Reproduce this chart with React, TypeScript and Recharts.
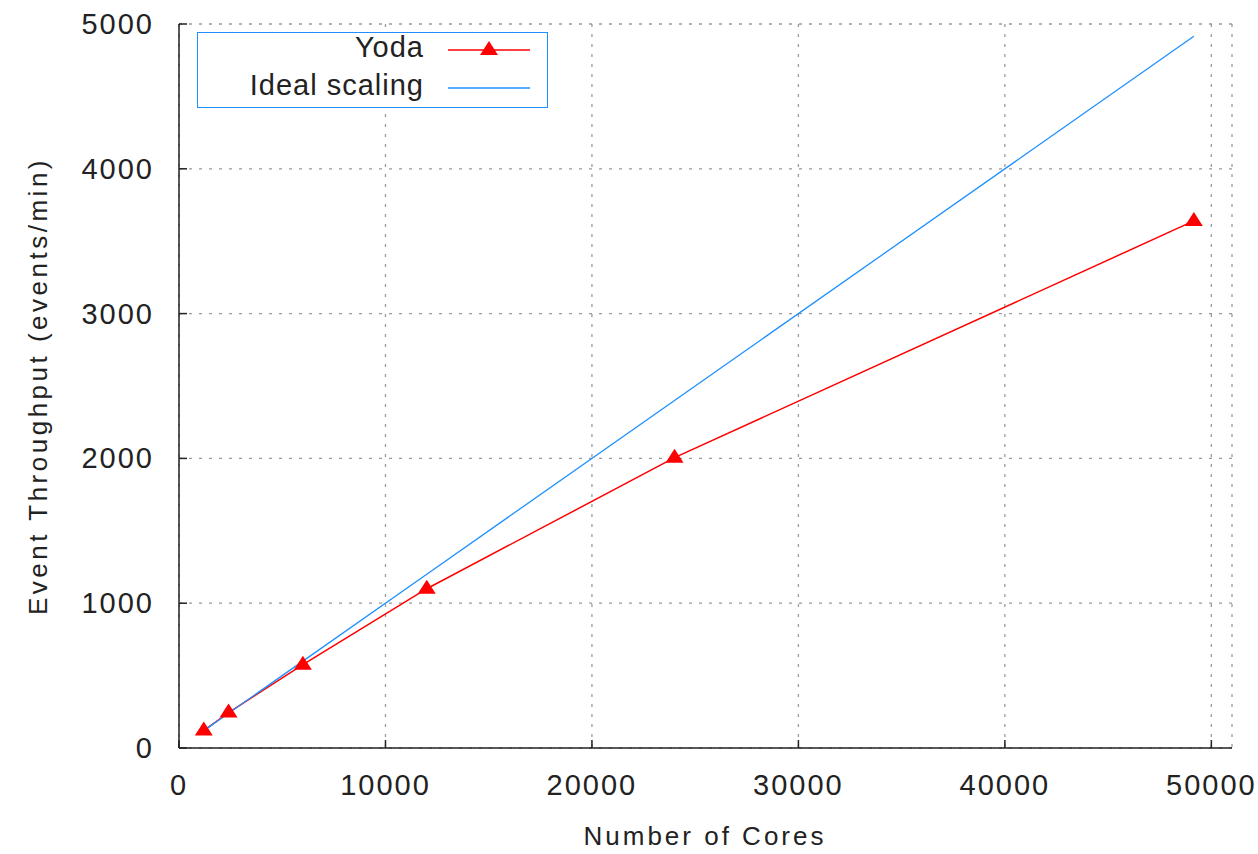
import { LineChart, Line, XAxis, YAxis, CartesianGrid, Legend, Label } from "recharts";

const cores = [1200, 2400, 6000, 12000, 24000, 49152];
const yodaThroughput = [120, 245, 575, 1100, 2005, 3640];
const idealThroughput = [120, 240, 600, 1200, 2400, 4915];
const xTicks = [0, 10000, 20000, 30000, 40000, 50000];
const yTicks = [0, 1000, 2000, 3000, 4000, 5000];
const seriesOrder = ["Yoda", "Ideal scaling"];

const yodaData = cores.map((c, i) => ({ cores: c, value: yodaThroughput[i] }));
const idealData = cores.map((c, i) => ({ cores: c, value: idealThroughput[i] }));

const FONT = '"Liberation Sans", Arial, Helvetica, sans-serif';
const RED = "#ff0000";
const BLUE = "#1e90ff";
const FRAME = "#222";

function Triangle(props: any) {
  const { cx, cy, index } = props;
  if (cx == null || cy == null) return null;
  return (
    <polygon
      key={`tri-${index}`}
      points={`${cx},${cy - 9} ${cx - 9},${cy + 5} ${cx + 9},${cy + 5}`}
      fill={RED}
    />
  );
}

function BottomTick({ x, y, payload }: any) {
  return (
    <g>
      <line x1={x} y1={y} x2={x} y2={y - 8} stroke={FRAME} strokeWidth={1.5} />
      <text x={x} y={y + 47} textAnchor="middle" fontFamily={FONT} fontSize={29} letterSpacing={2} fill="#222">
        {payload.value}
      </text>
    </g>
  );
}

function TopTick({ x, y }: any) {
  return <line x1={x} y1={y} x2={x} y2={y + 8} stroke={FRAME} strokeWidth={1.5} />;
}

function LeftTick({ x, y, payload }: any) {
  return (
    <g>
      <line x1={x} y1={y} x2={x + 8} y2={y} stroke={FRAME} strokeWidth={1.5} />
      <text x={x - 25} y={y + 10} textAnchor="end" fontFamily={FONT} fontSize={29} letterSpacing={2} fill="#222">
        {payload.value}
      </text>
    </g>
  );
}

function RightTick({ x, y }: any) {
  return <line x1={x} y1={y} x2={x - 8} y2={y} stroke={FRAME} strokeWidth={1.5} />;
}

function LegendBox({ payload }: any) {
  const rows = [...(payload || [])].sort(
    (a: any, b: any) => seriesOrder.indexOf(a.value) - seriesOrder.indexOf(b.value)
  );
  return (
    <svg width={351} height={76} style={{ display: "block" }}>
      <rect x={0.5} y={0.5} width={350} height={75} fill="#fff" stroke={BLUE} strokeWidth={1} />
      {rows.map((entry: any, i: number) => {
        const ly = 18 + i * 38;
        return (
          <g key={entry.value}>
            <text x={227} y={ly + 7} textAnchor="end" fontFamily={FONT} fontSize={29} letterSpacing={1} fill="#222">
              {entry.value}
            </text>
            <line x1={251} y1={ly} x2={333} y2={ly} stroke={entry.color} strokeWidth={1.5} />
            {entry.value === "Yoda" && (
              <polygon points={`292,${ly - 9} 283,${ly + 5} 301,${ly + 5}`} fill={RED} />
            )}
          </g>
        );
      })}
    </svg>
  );
}

export default function App() {
  return (
    <div style={{ position: "absolute", left: 0, top: 0, width: 1258, height: 854, background: "#fff" }}>
      <LineChart width={1258} height={854} margin={{ top: 24, right: 26, bottom: 0, left: 0 }}>
        <CartesianGrid stroke="#9a9a9a" strokeDasharray="3 7" strokeWidth={1.3} />
        <XAxis
          dataKey="cores"
          type="number"
          domain={[0, 51000]}
          ticks={xTicks}
          allowDataOverflow
          height={106}
          tickSize={0}
          tickMargin={0}
          tickLine={false}
          axisLine={{ stroke: FRAME, strokeWidth: 1.5 }}
          tick={<BottomTick />}
          interval={0}
        >
          <Label
            content={() => (
              <text x={705} y={845} textAnchor="middle" fontFamily={FONT} fontSize={26} letterSpacing={3} fill="#222">
                Number of Cores
              </text>
            )}
          />
        </XAxis>
        <XAxis
          xAxisId="top"
          orientation="top"
          dataKey="cores"
          type="number"
          domain={[0, 51000]}
          ticks={xTicks}
          allowDataOverflow
          height={0}
          tickSize={0}
          tickMargin={0}
          tickLine={false}
          axisLine={{ stroke: FRAME, strokeWidth: 1.5 }}
          tick={<TopTick />}
          interval={0}
        />
        <YAxis
          type="number"
          domain={[0, 5000]}
          ticks={yTicks}
          width={179}
          tickSize={0}
          tickMargin={0}
          tickLine={false}
          axisLine={{ stroke: FRAME, strokeWidth: 1.5 }}
          tick={<LeftTick />}
          interval={0}
        >
          <Label
            content={() => (
              <text
                x={47}
                y={386}
                transform="rotate(-90, 47, 386)"
                textAnchor="middle"
                fontFamily={FONT}
                fontSize={26}
                letterSpacing={3.5}
                fill="#222"
              >
                Event Throughput (events/min)
              </text>
            )}
          />
        </YAxis>
        <YAxis
          yAxisId="right"
          orientation="right"
          type="number"
          domain={[0, 5000]}
          ticks={yTicks}
          width={0}
          tickSize={0}
          tickMargin={0}
          tickLine={false}
          axisLine={{ stroke: FRAME, strokeWidth: 1.5 }}
          tick={<RightTick />}
          interval={0}
        />
        <Legend
          layout="vertical"
          align="center"
          verticalAlign="middle"
          content={<LegendBox />}
          wrapperStyle={{ left: 197, top: 32, width: 351, height: 76 }}
        />
        <Line
          data={yodaData}
          dataKey="value"
          name="Yoda"
          stroke={RED}
          strokeWidth={1.5}
          dot={Triangle}
          activeDot={false}
          isAnimationActive={false}
        />
        <Line
          data={idealData}
          dataKey="value"
          name="Ideal scaling"
          stroke={BLUE}
          strokeWidth={1.3}
          dot={false}
          activeDot={false}
          isAnimationActive={false}
        />
      </LineChart>
    </div>
  );
}
